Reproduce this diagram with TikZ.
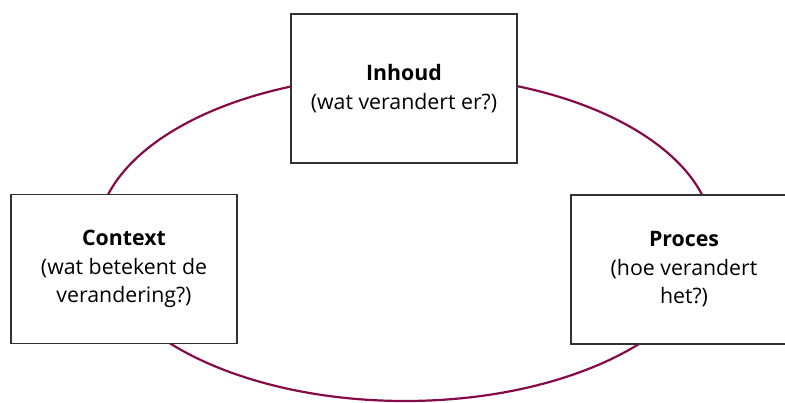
\documentclass[tikz,border=0pt]{standalone}
\usepackage{fontspec}
\setmainfont{Open Sans}
\definecolor{ringcol}{RGB}{135,10,72}
\definecolor{boxline}{RGB}{50,50,50}
\begin{document}
\begin{tikzpicture}[x=1pt,y=1pt,
  box/.style={draw=boxline,line width=1.2pt,fill=white,minimum width=226pt,minimum height=149pt,
    align=center,inner sep=0pt,font=\fontsize{21.3}{28.5}\selectfont},
  ring/.style={draw=ringcol,line width=2.2pt}]
\clip (0,0) rectangle (785,-403);
\draw[ring] (405,-238) ellipse [x radius=308, y radius=163];
\node[box] (inhoud) at (404,-88.5) {\textbf{Inhoud}\\(wat verandert er?)};
\node[box] (context) at (124,-269) {\textbf{Context}\\(wat betekent de\\verandering?)};
\node[box] (proces) at (684,-269.5) {\textbf{Proces}\\(hoe verandert\\het?)};
\end{tikzpicture}
\end{document}
